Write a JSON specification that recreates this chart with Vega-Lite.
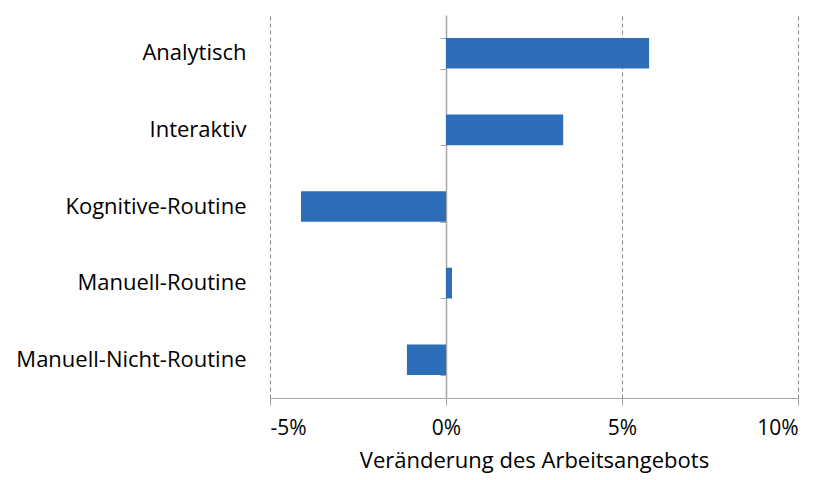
{
  "$schema": "https://vega.github.io/schema/vega-lite/v6.json",
  "autosize": "none",
  "padding": {"left": 270, "top": 15, "right": 24, "bottom": 82},
  "width": 528,
  "height": 383,
  "background": "white",
  "config": {"view": {"stroke": null}, "font": "Open Sans"},
  "data": {"values": [
    {"kategorie": "Analytisch", "wert": 0.0577},
    {"kategorie": "Interaktiv", "wert": 0.0333},
    {"kategorie": "Kognitive-Routine", "wert": -0.0412},
    {"kategorie": "Manuell-Routine", "wert": 0.0017},
    {"kategorie": "Manuell-Nicht-Routine", "wert": -0.0111}
  ]},
  "layer": [
    {
      "mark": {"type": "bar", "color": "#2E6DB7"},
      "encoding": {
        "y": {"field": "kategorie", "type": "nominal", "sort": null,
          "scale": {"paddingInner": 0.6, "paddingOuter": 0.3},
          "axis": {"orient": "left", "title": null, "domain": false, "ticks": false, "labelPadding": 24, "labelFontSize": 22, "labelLimit": 400, "labelColor": "#000000", "labelFont": "Open Sans"}},
        "x": {"field": "wert", "type": "quantitative",
          "scale": {"domain": [-0.05, 0.1], "nice": false},
          "axis": {"format": ".0%", "labelExpr": "replace(datum.label, '\u2212', '-')", "values": [-0.05, 0, 0.05, 0.1], "grid": true, "gridDash": [4, 3], "gridColor": "#8c8c8c",
            "domainColor": "#a6a6a6", "tickColor": "#a6a6a6", "tickSize": 7, "labelFontSize": 21, "labelColor": "#000000", "labelPadding": 12,
            "title": "Veränderung des Arbeitsangebots", "titleFontSize": 22, "titleFontWeight": "normal", "titleColor": "#000000", "titlePadding": 12}}
      }
    },
    {
      "mark": {"type": "rule", "opacity": 0},
      "encoding": {
        "y": {"field": "kategorie", "type": "nominal", "sort": null,
          "axis": {"orient": "left", "offset": -176, "title": null, "labels": false, "domain": true, "domainColor": "#a6a6a6", "domainWidth": 1.5,
            "ticks": true, "tickBand": "extent", "tickColor": "#a6a6a6", "tickSize": 6}}
      }
    }
  ],
  "resolve": {"axis": {"y": "independent"}}
}
